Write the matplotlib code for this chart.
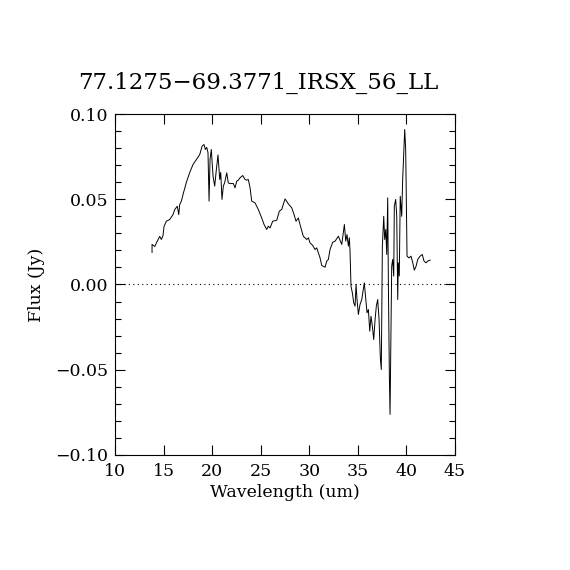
import matplotlib
matplotlib.use('Agg')
import matplotlib.pyplot as plt
from matplotlib.ticker import MultipleLocator, FuncFormatter

# spectrum
wave = [13.81, 13.81, 14.09, 14.35, 14.60, 14.77, 14.94, 15.04, 15.28, 15.63,
        15.97, 16.15, 16.41, 16.56, 16.66, 16.83, 17.00, 17.34, 17.69, 18.03,
        18.37, 18.72, 18.96, 19.16, 19.30, 19.44, 19.57, 19.68, 19.78, 19.91,
        20.09, 20.26, 20.43, 20.60, 20.78, 20.88, 21.01, 21.15, 21.29, 21.50,
        21.66, 21.84, 22.18, 22.35, 22.53, 22.69, 22.87, 23.15, 23.38, 23.56,
        23.72, 23.90, 24.07, 24.41, 24.75, 25.10, 25.34, 25.62, 25.78, 25.96,
        26.23, 26.65, 26.91, 27.16, 27.33, 27.50, 27.84, 28.19, 28.43, 28.63,
        28.87, 29.04, 29.38, 29.73, 29.90, 30.07, 30.35, 30.59, 30.76, 30.93,
        31.10, 31.28, 31.44, 31.62, 31.79, 31.96, 32.13, 32.41, 32.65, 32.99,
        33.34, 33.61, 33.75, 33.88, 34.02, 34.12, 34.19, 34.29, 34.43, 34.57,
        34.71, 34.81, 34.91, 35.05, 35.22, 35.40, 35.56, 35.66, 35.81, 35.94,
        36.08, 36.22, 36.35, 36.49, 36.63, 36.77, 36.90, 37.04, 37.18, 37.31,
        37.41, 37.52, 37.66, 37.76, 37.87, 37.97, 38.07, 38.14, 38.24, 38.31,
        38.38, 38.48, 38.58, 38.69, 38.75, 38.89, 39.00, 39.10, 39.16, 39.26,
        39.36, 39.51, 39.61, 39.72, 39.82, 39.92, 40.06, 40.26, 40.47, 40.65,
        40.81, 40.99, 41.16, 41.40, 41.63, 41.81, 42.02, 42.19, 42.43]
flux = [0.0188, 0.0235, 0.0223, 0.0254, 0.0282, 0.0264, 0.0287, 0.0340, 0.0371, 0.0381,
        0.0410, 0.0440, 0.0459, 0.0410, 0.0469, 0.0489, 0.0528, 0.0598, 0.0657, 0.0704,
        0.0733, 0.0762, 0.0811, 0.0821, 0.0792, 0.0804, 0.0774, 0.0489, 0.0733, 0.0792,
        0.0635, 0.0577, 0.0674, 0.0760, 0.0616, 0.0657, 0.0499, 0.0577, 0.0598, 0.0655,
        0.0596, 0.0592, 0.0592, 0.0567, 0.0606, 0.0612, 0.0626, 0.0639, 0.0616, 0.0612,
        0.0616, 0.0567, 0.0489, 0.0479, 0.0440, 0.0390, 0.0352, 0.0323, 0.0342, 0.0332,
        0.0371, 0.0377, 0.0430, 0.0440, 0.0470, 0.0502, 0.0473, 0.0450, 0.0410, 0.0371,
        0.0390, 0.0352, 0.0283, 0.0264, 0.0274, 0.0245, 0.0229, 0.0205, 0.0215, 0.0186,
        0.0157, 0.0111, 0.0107, 0.0101, 0.0137, 0.0147, 0.0205, 0.0248, 0.0254, 0.0283,
        0.0235, 0.0352, 0.0254, 0.0293, 0.0225, 0.0274, 0.0196, -0.0010, -0.0049, -0.0107,
        -0.0127, 0.0000, -0.0088, -0.0176, -0.0117, -0.0088, -0.0029, 0.0010, -0.0088, -0.0166,
        -0.0147, -0.0274, -0.0186, -0.0245, -0.0323, -0.0205, -0.0127, -0.0088, -0.0205, -0.0430,
        -0.0499, 0.0225, 0.0400, 0.0264, 0.0323, 0.0176, 0.0508, 0.0000, -0.0538, -0.0762,
        -0.0400, 0.0107, 0.0147, 0.0049, 0.0459, 0.0499, 0.0400, -0.0088, 0.0127, 0.0050,
        0.0518, 0.0400, 0.0616, 0.0772, 0.0909, 0.0792, 0.0166, 0.0156, 0.0166, 0.0127,
        0.0084, 0.0107, 0.0147, 0.0166, 0.0176, 0.0137, 0.0127, 0.0137, 0.0143]

title = '77.1275\u221269.3771_IRSX_56_LL'

plt.rcParams['font.family'] = ['DejaVu Serif']
plt.rcParams['axes.linewidth'] = 0.8

fig = plt.figure(figsize=(5.7, 5.7), dpi=100)
ax = fig.add_axes([0.2018, 0.2018, 0.5965, 0.5982])

ax.plot(wave, flux, color='black', linewidth=0.7)
ax.axhline(0, color='black', linestyle=(0, (1, 3)), linewidth=0.8)

ax.set_xlim(10, 45)
ax.set_ylim(-0.10, 0.10)
ax.xaxis.set_major_locator(MultipleLocator(5))
ax.yaxis.set_major_locator(MultipleLocator(0.05))
ax.yaxis.set_minor_locator(MultipleLocator(0.01))
ax.yaxis.set_major_formatter(FuncFormatter(lambda v, p: ('%.2f' % v).replace('-', '\u2212')))
ax.tick_params(which='both', direction='in', top=True, right=True, labelsize=12.5,
               width=0.8, colors='black')
ax.tick_params(which='major', length=7)
ax.tick_params(which='minor', length=4)
ax.tick_params(axis='x', pad=6)
ax.tick_params(axis='y', pad=5)

ax.set_xlabel('Wavelength (um)', fontsize=12.5, labelpad=3)
ax.set_ylabel('Flux (Jy)', fontsize=12.5, labelpad=7)
fig.text(0.453, 0.855, title, fontsize=16.5, ha='center', va='center')

fig.savefig('out.png', dpi=100, facecolor='white')
